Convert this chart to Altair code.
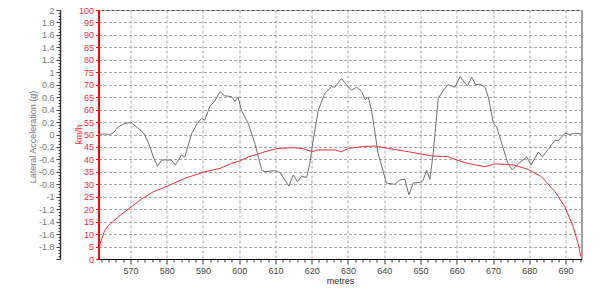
import altair as alt
import pandas as pd

# Speed trace (km/h) vs distance (metres)
speed_m = [561.2, 561.6, 562.9, 564.0, 565.7, 568.0, 570.3, 573.0, 576.3, 580.4,
           585.0, 590.5, 594.7, 597.9, 600.0, 602.5, 605.0, 607.1, 610.7, 615.4,
           618.0, 620.0, 621.8, 626.4, 628.2, 630.1, 633.8, 637.4, 641.1, 646.6,
           650.0, 653.1, 657.6, 659.5, 662.3, 665.0, 667.8, 670.5, 675.6, 679.7,
           683.4, 687.1, 689.8, 692.1, 693.5, 694.2]
speed_kmh = [1, 6, 11.5, 13.5, 15.7, 18.5, 21, 24, 27, 29.4,
             32.4, 35, 36.4, 38.4, 39.3, 41, 42, 43.1, 44.4, 44.7,
             44.2, 43.1, 43.8, 43.8, 43.1, 44.4, 45.1, 45.4, 44.4, 43.1,
             42.2, 41.4, 41.1, 40, 38.7, 37.8, 37.1, 38.2, 37.8, 36,
             33, 27, 21, 13, 6, 1]

# Lateral acceleration (g) vs distance (metres)
lat_m = [561.2, 563.0, 564.0, 565.2, 566.6, 568.5, 570.3, 571.7, 573.0, 574.0,
         575.4, 576.3, 577.5, 578.6, 581.3, 582.4, 584.1, 585.0, 586.9, 588.5,
         589.6, 590.5, 591.9, 593.3, 594.7, 596.0, 597.9, 598.8, 599.7, 600.6,
         602.5, 604.3, 606.2, 607.1, 609.8, 611.2, 612.6, 613.7, 614.9, 616.1,
         617.2, 618.6, 619.5, 620.4, 621.8, 623.6, 625.5, 626.4, 628.2, 629.6,
         631.0, 632.4, 633.8, 634.7, 635.6, 636.5, 638.3, 640.6, 642.9, 644.3,
         645.7, 646.8, 648.0, 649.8, 650.7, 651.7, 652.6, 653.5, 654.9, 656.3,
         657.6, 659.5, 660.9, 662.3, 663.0, 664.1, 665.2, 666.4, 667.8, 668.7,
         670.1, 671.0, 672.4, 674.0, 675.3, 677.0, 679.3, 680.5, 682.5, 683.6,
         685.2, 687.1, 688.0, 689.8, 691.2, 692.5, 694.4]
lat_g = [0.0, 0.01, 0.0, 0.02, 0.12, 0.18, 0.19, 0.12, 0.06, -0.01,
         -0.2, -0.36, -0.51, -0.41, -0.41, -0.49, -0.33, -0.36, 0.02, 0.18,
         0.26, 0.23, 0.45, 0.54, 0.69, 0.62, 0.61, 0.53, 0.6, 0.39,
         0.18, -0.14, -0.57, -0.6, -0.58, -0.61, -0.73, -0.83, -0.65, -0.76,
         -0.67, -0.69, -0.46, -0.09, 0.39, 0.66, 0.77, 0.76, 0.9, 0.8,
         0.71, 0.76, 0.69, 0.56, 0.6, 0.39, -0.3, -0.78, -0.8, -0.73,
         -0.72, -0.97, -0.78, -0.77, -0.74, -0.57, -0.72, -0.3, 0.58, 0.71,
         0.8, 0.76, 0.93, 0.82, 0.78, 0.92, 0.8, 0.81, 0.76, 0.6,
         0.18, 0.12, -0.14, -0.45, -0.57, -0.47, -0.36, -0.49, -0.28, -0.36,
         -0.24, -0.09, -0.1, 0.02, 0.0, 0.02, 0.01]

x_ticks = list(range(562, 695, 2))
kmh_ticks = list(range(0, 101, 5))
g_ticks = [round(-2 + 0.05 * i, 2) for i in range(81)]

speed_df = pd.DataFrame({"m": speed_m, "kmh": speed_kmh})
lat_df = pd.DataFrame({"m": lat_m, "g": lat_g})

FONT = "Liberation Sans"
X_DOMAIN = [561.2, 694.4]

x_axis = alt.Axis(
    values=x_ticks,
    labelExpr="datum.value % 10 == 0 ? '' + datum.value : ''",
    labelOverlap=False, labelFlush=False,
    tickSize={"condition": {"test": "datum.value % 10 == 0", "value": 5}, "value": 3},
    tickColor="#333", domainColor="#000", domainWidth=1,
    grid=True,
    gridOpacity={"condition": {"test": "datum.value % 10 == 0", "value": 1}, "value": 0},
    gridColor="#a8a8a8", gridDash=[3, 2], gridWidth=1,
    labelFont=FONT, labelFontSize=9, labelColor="#444", labelPadding=2,
    title="metres", titleFont=FONT, titleFontSize=9, titleFontWeight="normal",
    titleColor="#333", titlePadding=1,
)

lat = alt.Chart(lat_df).mark_line(color="#707070", strokeWidth=1).encode(
    x=alt.X("m:Q", scale=alt.Scale(domain=X_DOMAIN, nice=False, zero=False), axis=x_axis),
    y=alt.Y("g:Q", scale=alt.Scale(domain=[-2, 2], nice=False, zero=False),
            axis=alt.Axis(
                orient="left", offset=38.5, values=g_ticks,
                labelExpr="(abs(round(datum.value*20)) % 4 == 0 && datum.value > -1.99) ? '' + datum.value : ''",
                labelOverlap=False,
                tickSize={"condition": {"test": "abs(round(datum.value*20)) % 4 == 0", "value": 4}, "value": 2},
                tickColor="#444", domainColor="#333", domainWidth=1.5,
                grid=False,
                labelFont=FONT, labelFontSize=9, labelColor="#777", labelPadding=2,
                title="Lateral Acceleration (g)", titleFont=FONT, titleFontSize=9,
                titleFontWeight="normal", titleColor="#777",
                titleX=-28, titleY=126.5, titleAngle=-90, titleBaseline="middle",
                titleAlign="center",
            )),
)

speed = alt.Chart(speed_df).mark_line(color="#e8333a", strokeWidth=1).encode(
    x=alt.X("m:Q", scale=alt.Scale(domain=X_DOMAIN, nice=False, zero=False), axis=x_axis),
    y=alt.Y("kmh:Q", scale=alt.Scale(domain=[0, 100], nice=False, zero=False),
            axis=alt.Axis(
                orient="left", offset=0, values=kmh_ticks,
                labelOverlap=False,
                tickSize=3, tickColor="#f00", domainColor="#f00", domainWidth=2,
                grid=True, gridColor="#a8a8a8", gridDash=[3, 2], gridWidth=1,
                labelFont=FONT, labelFontSize=9, labelColor="#f03030", labelPadding=2,
                title="km/h", titleFont=FONT, titleFontSize=9, titleFontWeight="normal",
                titleColor="#f03030",
                titleX=-20, titleY=124, titleAngle=-90, titleBaseline="middle",
                titleAlign="center",
            )),
)

chart = (
    alt.layer(speed, lat)
    .resolve_scale(y="independent")
    .properties(
        width=483, height=249,
        autosize=alt.AutoSizeParams(type="none"),
        padding={"left": 98.5, "top": 10, "right": 18.5, "bottom": 36},
        background="white",
    )
    .configure_view(stroke="#444", strokeWidth=1)
)

chart.save("out.html", embed_options={"renderer": "svg", "actions": False})
